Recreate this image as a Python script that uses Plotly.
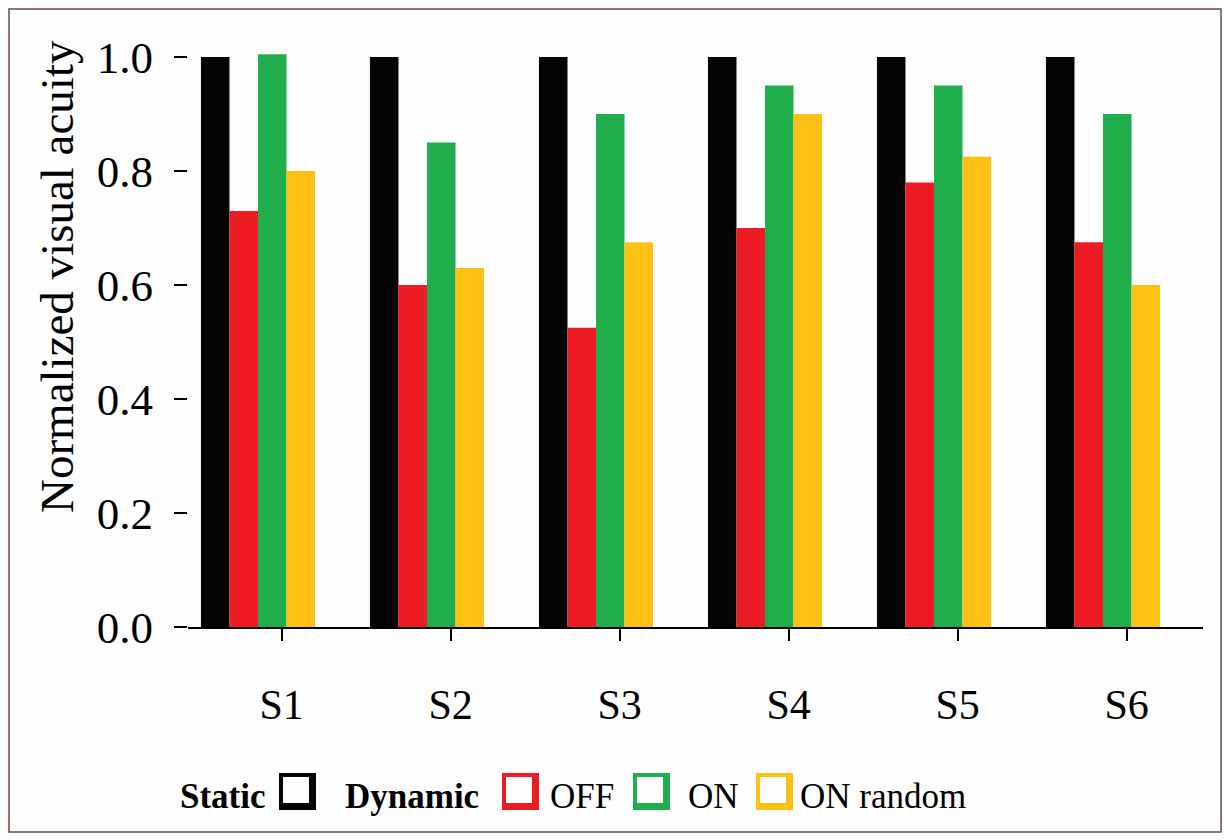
import plotly.graph_objects as go

# ---- data ----
subjects = ["S1", "S2", "S3", "S4", "S5", "S6"]
static_vals = [1.0, 1.0, 1.0, 1.0, 1.0, 1.0]
off_vals = [0.73, 0.60, 0.525, 0.70, 0.78, 0.675]
on_vals = [1.005, 0.85, 0.90, 0.95, 0.95, 0.90]
on_random_vals = [0.80, 0.63, 0.675, 0.90, 0.825, 0.60]
y_ticks = [0.0, 0.2, 0.4, 0.6, 0.8, 1.0]

series = [
    ("Static", static_vals, "#040404"),
    ("OFF", off_vals, "#ED1C24"),
    ("ON", on_vals, "#1FAE4B"),
    ("ON random", on_random_vals, "#FDC113"),
]

W, H = 1225, 840
L, R, T, B = 188, 22, 50, 213
PW, PH = W - L - R, H - T - B
BG = "#FDFDFE"

def px(x):
    return (x - L) / PW

def py(y):
    return (H - B - y) / PH

FONT = "Liberation Serif"
xs = list(range(len(subjects)))

fig = go.Figure()
for name, vals, col in series:
    fig.add_trace(go.Bar(
        x=xs, y=vals, name=name, marker=dict(color=col, line=dict(width=0)),
        showlegend=False,
        hovertemplate=name + " %{customdata}: %{y}<extra></extra>",
        customdata=subjects,
    ))

# x-axis range from pixel geometry (group centres ~169 px apart)
c0, step = 258.0, 169.0
xr = [(L - c0) / step, (W - R - c0) / step]

fig.update_layout(
    width=W, height=H,
    margin=dict(l=L, r=R, t=T, b=B),
    barmode="group", bargap=0.325, bargroupgap=0,
    plot_bgcolor=BG, paper_bgcolor=BG,
    font=dict(family=FONT, color="black"),
    xaxis=dict(
        range=xr, tickmode="array", tickvals=[i + 0.14 for i in xs], ticktext=subjects,
        ticks="outside", ticklen=12, tickwidth=2, tickcolor="black",
        showline=True, linecolor="black", linewidth=2, showgrid=False, zeroline=False,
        tickfont=dict(family=FONT, size=42, color="black"), ticklabelstandoff=28,
    ),
    yaxis=dict(
        range=[0, 1.0125], tickmode="array", tickvals=y_ticks,
        ticktext=[f"{v:.1f}" for v in y_ticks],
        ticks="outside", ticklen=13, tickwidth=2, tickcolor="black",
        showline=False, showgrid=False, zeroline=False,
        tickfont=dict(family=FONT, size=45, color="black"), ticklabelstandoff=12,
    ),
)

annotations = [
    dict(text="Normalized visual acuity", x=px(57), y=py(277), xref="paper", yref="paper",
         textangle=-90, showarrow=False, font=dict(family=FONT, size=47, color="black"),
         xanchor="center", yanchor="middle"),
]

# manual legend
legend_y = 796
box_top, box_bot = 773, 810
texts = [("<b>Static</b>", 178), ("<b>Dynamic</b>", 343), ("OFF", 548), ("ON", 686), ("ON random", 798)]
for t, x0 in texts:
    annotations.append(dict(text=t, x=px(x0), y=py(legend_y), xref="paper", yref="paper",
                            showarrow=False, xanchor="left", yanchor="middle",
                            font=dict(family=FONT, size=35, color="black")))

shapes = []
box_lefts = [279, 502, 633, 756]
for (name, vals, col), bx in zip(series, box_lefts):
    shapes.append(dict(type="rect", xref="paper", yref="paper",
                       x0=px(bx), x1=px(bx + 37), y0=py(box_bot), y1=py(box_top),
                       fillcolor=col, line=dict(width=0), layer="above"))
    shapes.append(dict(type="rect", xref="paper", yref="paper",
                       x0=px(bx + 4), x1=px(bx + 30), y0=py(box_bot - 7), y1=py(box_top + 4),
                       fillcolor=BG, line=dict(width=0), layer="above"))

# figure border
shapes.append(dict(type="rect", xref="paper", yref="paper",
                   x0=px(9), x1=px(1221), y0=py(832), y1=py(9),
                   line=dict(color="#6b4a3e", width=1.5), fillcolor="rgba(0,0,0,0)", layer="above"))

fig.update_layout(annotations=annotations, shapes=shapes)
fig.write_html("out.html", config={"displayModeBar": False},
               post_script="document.body.style.margin='0';document.body.style.padding='0';")
